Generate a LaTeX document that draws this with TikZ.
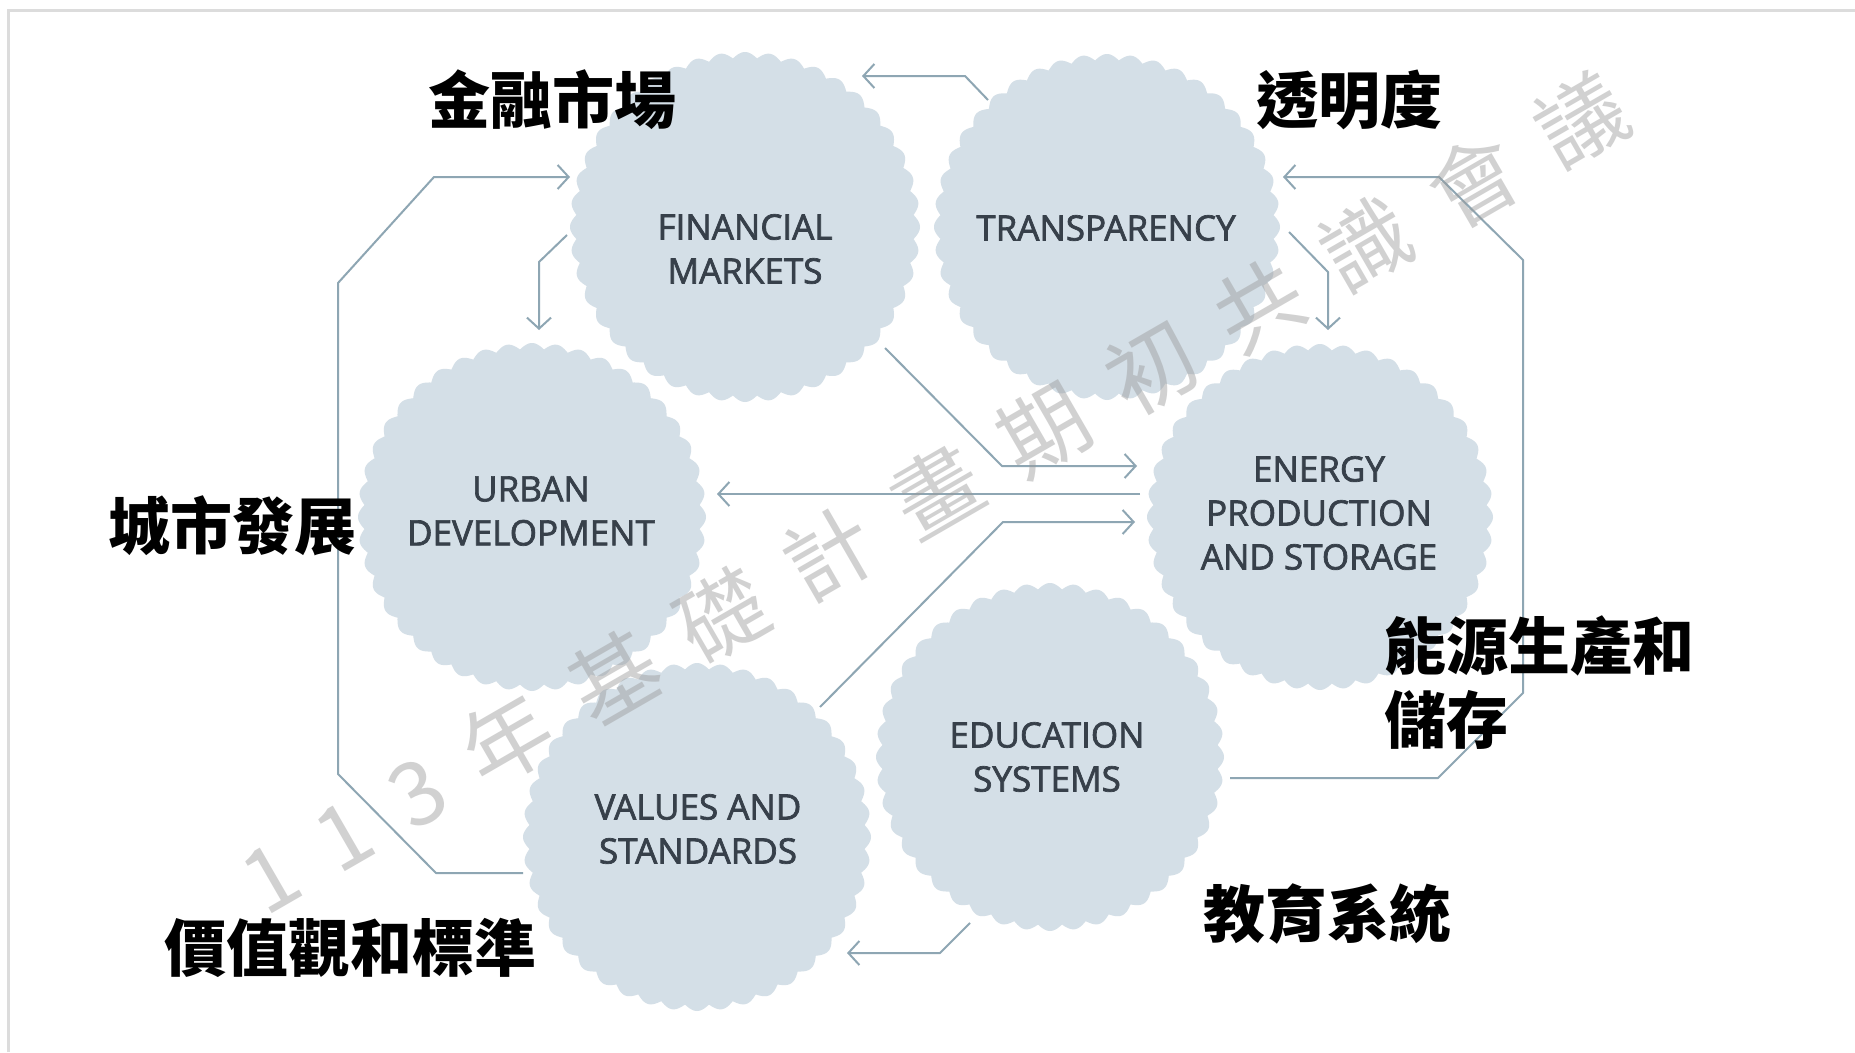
\documentclass[tikz,border=0pt]{standalone}
\usepackage{fontspec}
\setmainfont{Open Sans}
\newfontfamily\lblfont{Open Sans}[FakeBold=2]
\newfontfamily\cjk{Noto Sans CJK TC}
\usetikzlibrary{arrows.meta}
\definecolor{blobc}{HTML}{D4DFE7}
\definecolor{linec}{HTML}{8EA6B3}
\definecolor{txtc}{HTML}{37404A}
\definecolor{framec}{HTML}{DCDCDC}
\definecolor{wmc}{HTML}{9A9A9A}
\newcommand\myblob[3]{\fill[blobc] plot[domain=0:360,samples=881,variable=\t] ({#1+(#3-6+6*abs(cos(22*\t)))*cos(\t)},{#2+(#3-6+6*abs(cos(22*\t)))*sin(\t)}) -- cycle;}
\newcommand\wsp{\hspace{36pt}}
\begin{document}
\begin{tikzpicture}[x=1pt,y=-1pt,
  conn/.style={draw=linec, line width=2pt, line join=round},
  arr/.style={conn, -{Straight Barb[length=11pt,width=24pt]}},
  lbl/.style={text=txtc, font=\lblfont\fontsize{35}{44}\selectfont, align=center, inner sep=0pt},
  cn/.style={font=\cjk\bfseries\fontsize{62}{74}\selectfont, text=black, inner sep=0pt},
  ring/.style={circle, inner sep=0pt, minimum size=#1}]
\useasboundingbox (0,0) rectangle (1855,1052);
\fill[white] (0,0) rectangle (1855,1052);
\draw[framec, line width=3pt] (8,1052) -- (8,10) -- (1855,10);

% scalloped discs
\myblob{745}{227}{175}
\myblob{1107}{227}{173}
\myblob{532}{517}{174}
\myblob{1320}{517}{173}
\myblob{1050}{757}{174}
\myblob{697}{837}{174}

\node[ring=350pt] (fin) at (745,227) {};
\node[ring=346pt] (tra) at (1107,227) {};
\node[ring=348pt] (urb) at (532,517) {};
\node[ring=346pt] (ene) at (1320,517) {};
\node[ring=348pt] (edu) at (1050,757) {};
\node[ring=348pt] (val) at (697,837) {};

% texts in discs
\node[lbl] (finT) at (745,249) {FINANCIAL\\MARKETS};
\node[lbl] (traT) at (1106,228) {TRANSPARENCY};
\node[lbl] (urbT) at (531,511) {URBAN\\DEVELOPMENT};
\node[lbl] (eneT) at (1319,513) {ENERGY\\PRODUCTION\\AND STORAGE};
\node[lbl] (eduT) at (1047,757) {EDUCATION\\SYSTEMS};
\node[lbl] (valT) at (698,829) {VALUES AND\\STANDARDS};

% connector end points
\coordinate (a1) at (988,100);  \coordinate (a2) at (862,76);
\coordinate (b1) at (523,873);  \coordinate (b2) at (570,177);
\coordinate (c1) at (567,235);  \coordinate (c2) at (539,330);
\coordinate (d1) at (1289,232); \coordinate (d2) at (1328,330);
\coordinate (e1) at (1230,778); \coordinate (e2) at (1283,177);
\coordinate (f1) at (885,348);  \coordinate (f2) at (1137,466);
\coordinate (g1) at (1140,494); \coordinate (g2) at (717,494);
\coordinate (h1) at (820,707);  \coordinate (h2) at (1135,522);
\coordinate (i1) at (970,923);  \coordinate (i2) at (847,953);

\draw[arr] (a1) -- (965,76) -- (a2);
\draw[arr] (b1) -- (436,873) -- (338,774) -- (338,283) -- (434,177) -- (b2);
\draw[arr] (c1) -- (539,262) -- (c2);
\draw[arr] (d1) -- (1328,272) -- (d2);
\draw[arr] (e1) -- (1438,778) -- (1523,693) -- (1523,260) -- (1439,177) -- (e2);
\draw[arr] (f1) -- (1002,466) -- (f2);
\draw[arr] (g1) -- (g2);
\draw[arr] (h1) -- (1003,522) -- (h2);
\draw[arr] (i1) -- (940,953) -- (i2);

% Chinese labels
\node[cn] (lfin) at (552,100) {金融市場};
\node[cn] (ltra) at (1349,100) {透明度};
\node[cn] (lurb) at (232,526) {城市發展};
\node[cn, align=left, anchor=west] (lene) at (1384,683) {能源生產和\\儲存};
\node[cn] (ledu) at (1327,914) {教育系統};
\node[cn] (lval) at (350,948) {價值觀和標準};

% watermark
\node[rotate=30, text=wmc, text opacity=0.45, inner sep=0pt, text depth=0pt, font=\cjk\fontsize{88}{90}\selectfont] (wm) at (932,490)
 {1\wsp 1\wsp 3\wsp 年\wsp 基\wsp 礎\wsp 計\wsp 畫\wsp 期\wsp 初\wsp 共\wsp 識\wsp 會\wsp 議};
\end{tikzpicture}
\end{document}
